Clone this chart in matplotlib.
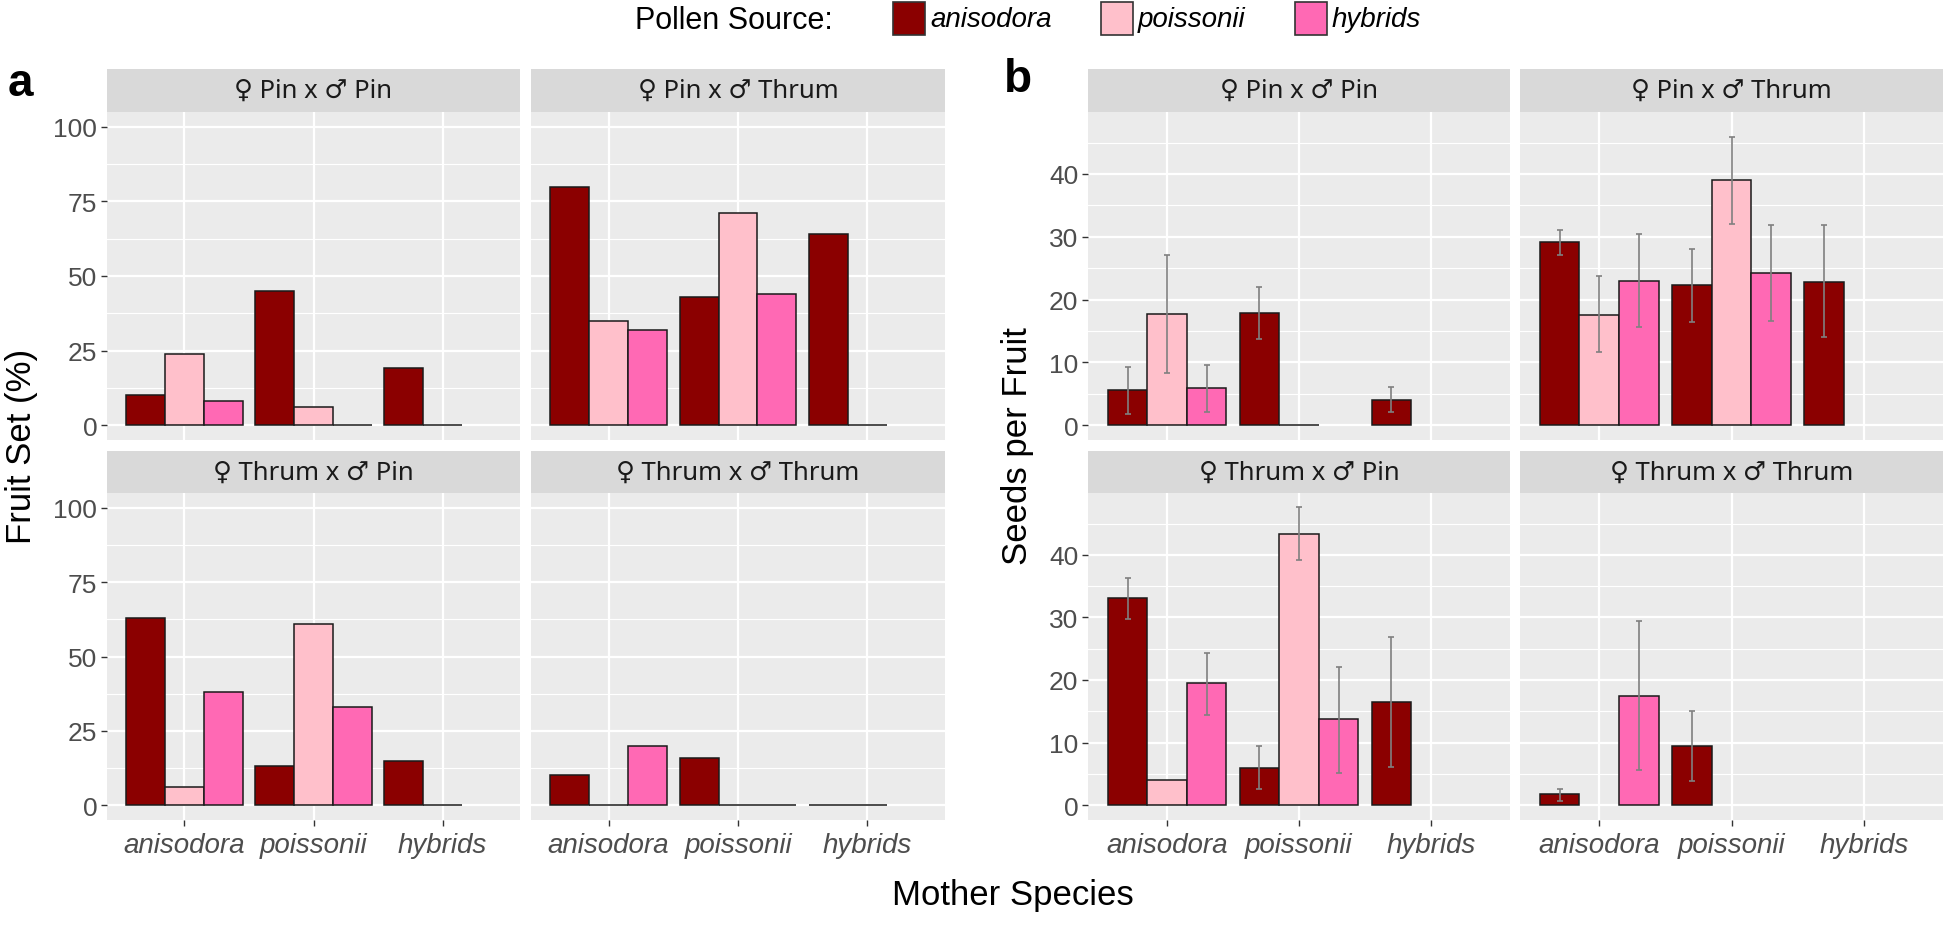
import numpy as np
import matplotlib
matplotlib.use("Agg")
import matplotlib.pyplot as plt
from matplotlib.patches import Rectangle

plt.rcParams['font.family'] = ['Liberation Sans', 'DejaVu Sans']

nan = np.nan

# categories
crosses = ["\u2640 Pin x \u2642 Pin", "\u2640 Pin x \u2642 Thrum",
           "\u2640 Thrum x \u2642 Pin", "\u2640 Thrum x \u2642 Thrum"]
mothers = ["anisodora", "poissonii", "hybrids"]
pollen = ["anisodora", "poissonii", "hybrids"]
pollen_colors = ["#8B0000", "#FFC0CB", "#FF69B4"]

# fruit set (%), rows = mother species, cols = pollen source
fruit_pin_pin = [[10, 24, 8], [45, 6, 0], [19, 0, nan]]
fruit_pin_thrum = [[80, 35, 32], [43, 71, 44], [64, 0, nan]]
fruit_thrum_pin = [[63, 6, 38], [13, 61, 33], [15, 0, nan]]
fruit_thrum_thrum = [[10, 0, 20], [16, 0, 0], [0, 0, nan]]

# seeds per fruit, with error bar limits
seeds_pin_pin = [[5.6, 17.7, 5.9], [17.8, 0, nan], [4.0, nan, nan]]
seeds_pin_pin_lo = [[1.8, 8.3, 2.1], [13.7, nan, nan], [2.1, nan, nan]]
seeds_pin_pin_hi = [[9.3, 27.1, 9.6], [22.0, nan, nan], [6.0, nan, nan]]

seeds_pin_thrum = [[29.1, 17.5, 22.9], [22.3, 39.0, 24.2], [22.8, nan, nan]]
seeds_pin_thrum_lo = [[27.1, 11.6, 15.6], [16.4, 32.0, 16.6], [14.0, nan, nan]]
seeds_pin_thrum_hi = [[31.1, 23.8, 30.4], [28.1, 45.9, 31.8], [31.8, nan, nan]]

seeds_thrum_pin = [[33.1, 4.0, 19.5], [6.0, 43.4, 13.7], [16.4, nan, nan]]
seeds_thrum_pin_lo = [[29.7, nan, 14.4], [2.5, 39.1, 5.2], [6.1, nan, nan]]
seeds_thrum_pin_hi = [[36.3, nan, 24.3], [9.5, 47.6, 22.1], [26.9, nan, nan]]

seeds_thrum_thrum = [[1.7, nan, 17.5], [9.4, nan, nan], [nan, nan, nan]]
seeds_thrum_thrum_lo = [[0.6, nan, 5.6], [3.8, nan, nan], [nan, nan, nan]]
seeds_thrum_thrum_hi = [[2.6, nan, 29.5], [15.1, nan, nan], [nan, nan, nan]]

fruit_all = [fruit_pin_pin, fruit_pin_thrum, fruit_thrum_pin, fruit_thrum_thrum]
seeds_all = [seeds_pin_pin, seeds_pin_thrum, seeds_thrum_pin, seeds_thrum_thrum]
seeds_lo_all = [seeds_pin_pin_lo, seeds_pin_thrum_lo, seeds_thrum_pin_lo, seeds_thrum_thrum_lo]
seeds_hi_all = [seeds_pin_pin_hi, seeds_pin_thrum_hi, seeds_thrum_pin_hi, seeds_thrum_thrum_hi]

W, H = 1946, 928
fig = plt.figure(figsize=(W / 100, H / 100), dpi=100)


def px_axes(x0, y0, x1, y1):
    return fig.add_axes([x0 / W, 1 - y1 / H, (x1 - x0) / W, (y1 - y0) / H])


rows = [((70, 113), (113, 441)), ((452, 494), (494, 821))]
cols_a = [(107, 520), (531, 945)]
cols_b = [(1088, 1510), (1520, 1943)]

bw = 0.3
x = np.arange(len(mothers))


def draw_panel(ax, vals, lo=None, hi=None):
    vals = np.array(vals, dtype=float)
    for j in range(len(pollen)):
        xs = x + (j - 1) * bw
        v = vals[:, j]
        ok = ~np.isnan(v)
        ax.bar(xs[ok], v[ok], width=bw, color=pollen_colors[j],
               edgecolor="#1a1a1a", linewidth=1.1, zorder=3)
        if lo is not None:
            l = np.array(lo, dtype=float)[:, j]
            h = np.array(hi, dtype=float)[:, j]
            ok2 = ~np.isnan(l)
            mid = v[ok2]
            ax.errorbar(xs[ok2], mid, yerr=[mid - l[ok2], h[ok2] - mid],
                        fmt="none", ecolor="#808080", elinewidth=1.2,
                        capsize=2.5, capthick=1.2, zorder=4)


def style(ax, ylim, major, minor, left, bottom):
    ax.set_facecolor("#EBEBEB")
    ax.set_xlim(-0.6, 2.6)
    ax.set_ylim(*ylim)
    ax.set_yticks(major)
    ax.set_yticks(minor, minor=True)
    ax.set_xticks(x)
    ax.grid(True, which="major", color="white", linewidth=1.6, zorder=0)
    ax.grid(True, which="minor", axis="y", color="white", linewidth=0.8, zorder=0)
    ax.set_axisbelow(True)
    for s in ax.spines.values():
        s.set_visible(False)
    ax.tick_params(which="minor", length=0)
    ax.tick_params(which="major", color="#333333", width=1.0, length=4,
                   labelcolor="#4D4D4D", labelsize=19, pad=3)
    if left:
        ax.tick_params(axis="y", labelleft=True, left=True)
    else:
        ax.tick_params(axis="y", labelleft=False, left=False)
    if bottom:
        ax.set_xticklabels(mothers, fontstyle="italic", fontsize=20, color="#4D4D4D")
        ax.tick_params(axis="x", bottom=True, pad=5)
    else:
        ax.tick_params(axis="x", labelbottom=False, bottom=False)


def strip(y, xr, label):
    sa = px_axes(xr[0], y[0], xr[1], y[1])
    sa.set_facecolor("#D9D9D9")
    sa.set_xticks([])
    sa.set_yticks([])
    for s in sa.spines.values():
        s.set_visible(False)
    sa.text(0.5, 0.5, label, ha="center", va="center", fontsize=18.5,
            color="#1A1A1A", transform=sa.transAxes,
            family=["Noto Sans", "DejaVu Sans"])


k = 0
for r, (sy, py) in enumerate(rows):
    for c in range(2):
        # panel a: fruit set
        ax = px_axes(cols_a[c][0], py[0], cols_a[c][1], py[1])
        draw_panel(ax, fruit_all[k])
        style(ax, (-5, 105), [0, 25, 50, 75, 100], [12.5, 37.5, 62.5, 87.5], c == 0, r == 1)
        strip(sy, cols_a[c], crosses[k])
        # panel b: seeds per fruit
        bx = px_axes(cols_b[c][0], py[0], cols_b[c][1], py[1])
        draw_panel(bx, seeds_all[k], seeds_lo_all[k], seeds_hi_all[k])
        style(bx, (-2.375, 49.875), [0, 10, 20, 30, 40], [5, 15, 25, 35, 45], c == 0, r == 1)
        strip(sy, cols_b[c], crosses[k])
        k += 1

# axis titles and panel letters
fig.text(22 / W, 1 - 446 / H, "Fruit Set (%)", rotation=90, ha="center", va="center", fontsize=25)
fig.text(1018 / W, 1 - 446 / H, "Seeds per Fruit", rotation=90, ha="center", va="center", fontsize=25)
fig.text(1013 / W, 1 - 896 / H, "Mother Species", ha="center", va="center", fontsize=25)
fig.text(8 / W, 1 - 84 / H, "a", fontsize=33, fontweight="bold", va="center", ha="left")
fig.text(1004 / W, 1 - 80 / H, "b", fontsize=33, fontweight="bold", va="center", ha="left")

# legend
fig.text(635 / W, 1 - 21 / H, "Pollen Source:", fontsize=22, va="center", ha="left")
key_x = [893, 1101, 1295]
for j in range(len(pollen)):
    fig.add_artist(Rectangle((key_x[j] / W, 1 - 36 / H), 32 / W, 33 / H,
                             transform=fig.transFigure, facecolor=pollen_colors[j],
                             edgecolor="#333333", linewidth=1.2))
    fig.text((key_x[j] + 37) / W, 1 - 20 / H, pollen[j], fontsize=20,
             fontstyle="italic", va="center", ha="left")

fig.savefig("out.png", dpi=100, facecolor="white")
